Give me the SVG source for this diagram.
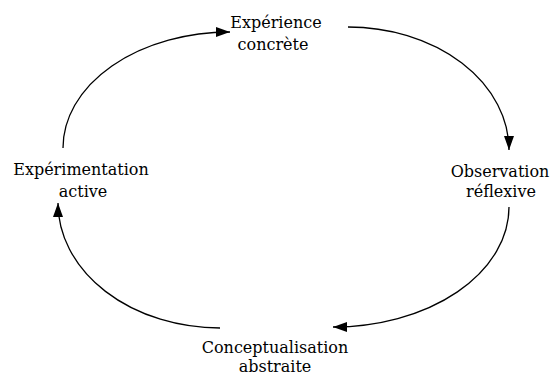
<svg xmlns="http://www.w3.org/2000/svg" width="553" height="376" viewBox="0 0 553 376">
<defs>
<marker id="ah" markerUnits="userSpaceOnUse" markerWidth="16" markerHeight="12" refX="14" refY="5" orient="auto">
<path d="M0,0 L14,5 L0,10 z" fill="#000"/>
</marker>
<style>
.lbl{font-family:"DejaVu Serif","Liberation Serif",serif;font-size:16px;fill:#000;text-anchor:middle}
.arc{fill:none;stroke:#000;stroke-width:1.3;marker-end:url(#ah)}
</style>
</defs>
<rect width="553" height="376" fill="#fff"/>
<g id="connectors">
<path class="arc" d="M63,148 A167,116 0 0 1 230,32"/>
<path class="arc" d="M348,27 A161,123 0 0 1 509,150"/>
<path class="arc" d="M509,207 A176,120 0 0 1 333,327"/>
<path class="arc" d="M220,328 A162,125 0 0 1 58,203"/>
</g>
<g id="experience">
<text class="lbl" x="276" y="28">Expérience</text>
<text class="lbl" x="273" y="50">concrète</text>
</g>
<g id="observation">
<text class="lbl" x="500" y="177">Observation</text>
<text class="lbl" x="501" y="197">réflexive</text>
</g>
<g id="conceptualisation">
<text class="lbl" x="275" y="353">Conceptualisation</text>
<text class="lbl" x="275" y="372">abstraite</text>
</g>
<g id="experimentation">
<text class="lbl" x="81" y="175">Expérimentation</text>
<text class="lbl" x="83" y="197">active</text>
</g>
</svg>
